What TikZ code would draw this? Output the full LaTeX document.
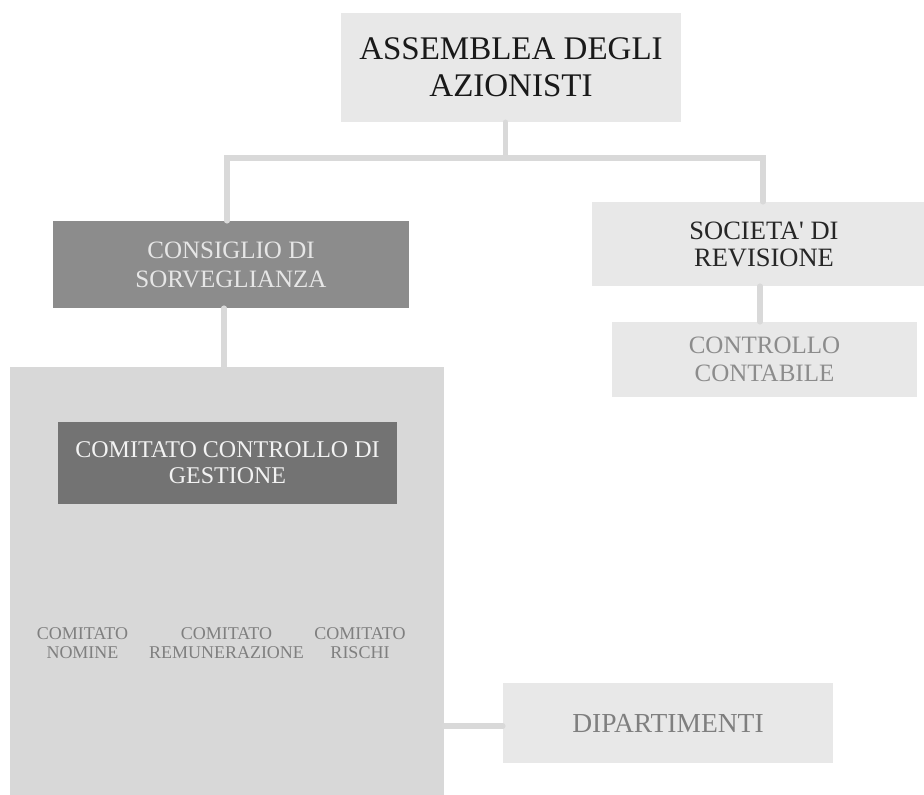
\documentclass[tikz,border=0pt]{standalone}
\usepackage{fontspec}
\setmainfont{Liberation Serif}[Ligatures=TeXOff]
\begin{document}
\begin{tikzpicture}[x=1pt,y=-1pt,
  box/.style={draw=none,rectangle,inner sep=0pt,align=center},
  conn/.style={draw=lineg,line width=5.5pt,line cap=round},
  ]
\definecolor{lineg}{HTML}{D9D9D9}
\definecolor{pale}{HTML}{E8E8E8}
\definecolor{mid}{HTML}{8C8C8C}
\definecolor{dark}{HTML}{737373}
\definecolor{bigg}{HTML}{D8D8D8}
\definecolor{txtg}{HTML}{7F7F7F}
\definecolor{txtl}{HTML}{E6E6E6}
\definecolor{txtw}{HTML}{F2F2F2}
\definecolor{txtc}{HTML}{8C8C8C}
\useasboundingbox (0,0) rectangle (924,795);
% nodes
\node[box,fill=pale,minimum width=340pt,minimum height=109pt,text=black!90,
  font={\fontsize{33}{37}\selectfont}] (asm) at (511,67.5) {ASSEMBLEA DEGLI\\AZIONISTI};
\node[box,fill=mid,minimum width=356pt,minimum height=87pt,text=txtl,
  font={\fontsize{25}{29}\selectfont}] (cons) at (231,264.5) {CONSIGLIO DI\\SORVEGLIANZA};
\node[box,fill=pale,minimum width=332pt,minimum height=84pt,text=black!85,
  font={\fontsize{26.5}{27}\selectfont}] (soc) at (758,244) {\hspace*{12pt}SOCIETA' DI\\\hspace*{12pt}REVISIONE};
\node[box,fill=pale,minimum width=305pt,minimum height=75pt,text=txtc,
  font={\fontsize{25}{28}\selectfont}] (ctrl) at (764.5,359.5) {CONTROLLO\\CONTABILE};
\node[box,fill=bigg,minimum width=434pt,minimum height=428pt] (big) at (227,581) {};
\node[box,fill=dark,minimum width=339pt,minimum height=82pt,text=txtw,
  font={\fontsize{24}{26}\selectfont}] (ccg) at (227.5,463) {COMITATO CONTROLLO DI\\GESTIONE};
\node[box,text=txtg,font={\fontsize{18}{19.6}\selectfont}] (cn) at (82.5,643) {COMITATO\\NOMINE};
\node[box,text=txtg,font={\fontsize{18}{19.6}\selectfont}] (cr) at (226.5,643) {COMITATO\\REMUNERAZIONE};
\node[box,text=txtg,font={\fontsize{18}{19.6}\selectfont}] (cri) at (360,643) {COMITATO\\RISCHI};
\node[box,fill=pale,minimum width=330pt,minimum height=80pt,text=txtg,
  font={\fontsize{27.5}{30}\selectfont}] (dip) at (668,723) {DIPARTIMENTI};
% connectors
\coordinate (jl) at (227,158);
\coordinate (jr) at (763,158);
\coordinate (jm) at (505.5,158);
\draw[conn] (jm) -- (jm |- asm.south);
\draw[conn] (jl |- cons.north) -- (jl) -- (jr) -- (jr |- soc.north);
\draw[conn] ([xshift=-4.5pt]ctrl.north) -- ([xshift=-4.5pt]ctrl.north |- soc.south);
\draw[conn] ([xshift=-3pt]big.north) -- ([xshift=-3pt]big.north |- cons.south);
\draw[conn] ([yshift=-3pt]dip.west) -- ([yshift=-3pt]dip.west -| big.east);
\end{tikzpicture}
\end{document}
